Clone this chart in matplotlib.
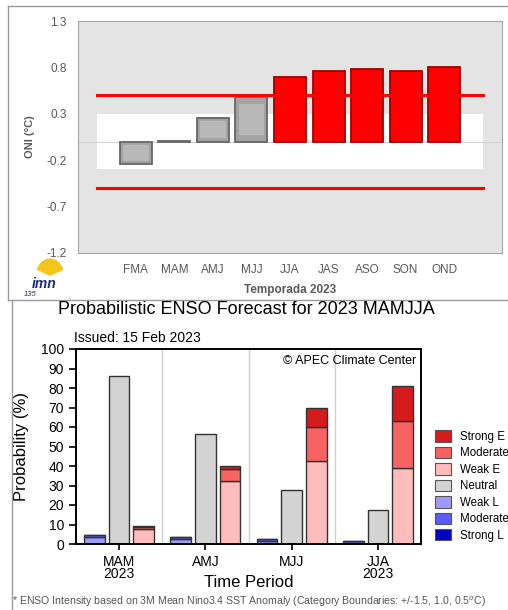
import matplotlib
matplotlib.use("Agg")
import matplotlib.pyplot as plt
from matplotlib.lines import Line2D
from matplotlib.patches import Patch, Wedge

plt.rcParams["font.family"] = ["Liberation Sans", "DejaVu Sans"]

# --- top chart: ONI forecast ---
seasons = ["FMA", "MAM", "AMJ", "MJJ", "JJA", "JAS", "ASO", "SON", "OND"]
oni = [-0.24, 0.01, 0.26, 0.48, 0.70, 0.76, 0.78, 0.76, 0.80]
oni_ticks = [1.3, 0.8, 0.3, -0.2, -0.7, -1.2]
threshold = 0.5
neutral_band = 0.3

# --- bottom chart: APEC probabilistic forecast ---
periods = ["MAM\n2023", "AMJ", "MJJ", "JJA\n2023"]
weak_l = [3.8, 2.4, 1.4, 0.7]
moderate_l = [1.0, 1.0, 1.0, 1.0]
strong_l = [0.0, 0.0, 0.0, 0.0]
neutral = [86.3, 56.3, 27.8, 17.2]
weak_e = [7.7, 32.1, 42.7, 38.9]
moderate_e = [1.0, 6.5, 17.2, 24.1]
strong_e = [0.3, 1.3, 9.6, 18.1]

W, H = 508, 610
fig = plt.figure(figsize=(W / 100, H / 100), dpi=100)


def fx(px):
    return px / W


def fy(py):
    return 1 - py / H


# panel frames
fig.add_artist(Line2D([fx(8), 1], [fy(6), fy(6)], color="#9a9a9a", lw=1))
fig.add_artist(Line2D([fx(8), fx(8)], [fy(6), fy(300)], color="#9a9a9a", lw=1))
fig.add_artist(Line2D([fx(8), 1], [fy(300), fy(300)], color="#9a9a9a", lw=1))
fig.add_artist(Line2D([fx(12), fx(12)], [fy(300), 0], color="#9a9a9a", lw=1))

# ---------- top ----------
ax1 = fig.add_axes([fx(78), fy(253), fx(502) - fx(78), (253 - 21) / H])
ax1.set_facecolor("#e4e4e4")
xs = list(range(len(seasons)))
ax1.fill_between([-1, len(seasons)], -neutral_band, neutral_band, color="white", lw=0, zorder=1)
ax1.axhline(0, color="#d4d4d4", lw=0.8, zorder=1)
cols = ["#ff0000" if v >= threshold else "#a3a3a3" for v in oni]
edges = ["#a00000" if v >= threshold else "#666666" for v in oni]
ax1.bar(xs, oni, width=0.83, color=cols, edgecolor=edges, linewidth=1.3, zorder=2)
for x, v in zip(xs, oni):
    if v < threshold and abs(v) > 0.05:
        ax1.bar(x, v * 0.7, bottom=v * 0.15, width=0.66, color="#b8b8b8", lw=0, zorder=3)
for t in (threshold, -threshold):
    ax1.plot([-1, len(seasons)], [t, t], color="#ff0000", lw=2.2, zorder=4)
ax1.set_xlim(-1.5, len(seasons) + 0.5)
ax1.set_ylim(-1.2, 1.3)
ax1.set_yticks(oni_ticks)
ax1.set_yticklabels([f"{t:.1f}" for t in oni_ticks])
ax1.set_xticks(xs)
ax1.set_xticklabels(seasons)
ax1.tick_params(length=0, labelsize=8.5, labelcolor="#595959")
ax1.tick_params(axis="y", pad=8)
ax1.tick_params(axis="x", pad=8)
for s in ax1.spines.values():
    s.set_color("#a6a6a6")
ax1.set_xlabel("Temporada 2023", fontsize=8.5, fontweight="bold", color="#595959")
ax1.xaxis.set_label_coords(0.5, -0.16)
ax1.xaxis.label.set_va("center")
fig.text(fx(30), fy(137), "ONI (°C)", rotation=90, ha="center", va="center",
         fontsize=8, fontweight="bold", color="#595959")

# logo
fig.add_artist(Wedge((fx(50), fy(275)), 0.026, 20, 160, color="#f5c518",
                     transform=fig.transFigure))
fig.text(fx(44), fy(284), "imn", fontsize=10, fontstyle="italic", fontweight="bold",
         color="#1a2a80", ha="center", va="center")
fig.text(fx(30), fy(295), "135", fontsize=5.5, fontstyle="italic", color="#333366",
         ha="center", va="center")

# ---------- bottom ----------
ax2 = fig.add_axes([fx(76), fy(544), (421 - 76) / W, (544 - 349) / H])
g = list(range(len(periods)))
off, bw = 0.285, 0.24
ec = "#333333"
xl = [i - off for i in g]
xe = [i + off for i in g]
c_se, c_me, c_we = "#d51b1b", "#f76262", "#ffbcbc"
c_n = "#d3d3d3"
c_wl, c_ml, c_sl = "#9c9cf6", "#5c5cf8", "#0000c0"

ax2.bar(xl, weak_l, bw, color=c_wl, edgecolor=ec, lw=1)
ax2.bar(xl, moderate_l, bw, bottom=weak_l, color=c_ml, edgecolor=ec, lw=1)
bl_top = [a + b for a, b in zip(weak_l, moderate_l)]
ax2.bar(xl, strong_l, bw, bottom=bl_top, color=c_sl, edgecolor=ec, lw=1)
ax2.bar(g, neutral, bw, color=c_n, edgecolor=ec, lw=1)
ax2.bar(xe, weak_e, bw, color=c_we, edgecolor=ec, lw=1)
ax2.bar(xe, moderate_e, bw, bottom=weak_e, color=c_me, edgecolor=ec, lw=1)
be_top = [a + b for a, b in zip(weak_e, moderate_e)]
ax2.bar(xe, strong_e, bw, bottom=be_top, color=c_se, edgecolor=ec, lw=1)

for i in g[:-1]:
    ax2.axvline(i + 0.5, color="#cfcfcf", lw=1, zorder=0)
ax2.set_xlim(-0.5, len(periods) - 0.5)
ax2.set_ylim(0, 100)
ax2.set_yticks(range(0, 101, 10))
ax2.set_xticks(g)
ax2.set_xticklabels(periods, linespacing=0.8)
ax2.tick_params(axis="y", labelsize=10, length=5, width=1.2, direction="out")
ax2.tick_params(axis="x", labelsize=10, length=4, width=1.2, direction="out", pad=4)
for s in ax2.spines.values():
    s.set_linewidth(1.4)
ax2.set_ylabel("Probability (%)", fontsize=12)
ax2.yaxis.set_label_coords(-0.157, 0.5)
ax2.yaxis.label.set_va("center")
ax2.set_xlabel("Time Period", fontsize=12)
ax2.xaxis.set_label_coords(0.5, -0.195)
ax2.xaxis.label.set_va("center")
ax2.text(0.985, 0.94, "© APEC Climate Center", transform=ax2.transAxes,
         ha="right", va="center", fontsize=9)
fig.text(fx(74), fy(338), "Issued: 15 Feb 2023", fontsize=10, va="center")
fig.text(fx(246), fy(310), "Probabilistic ENSO Forecast for 2023 MAMJJA",
         fontsize=13, ha="center", va="center")

labels = ["Strong E", "Moderate", "Weak E", "Neutral", "Weak L", "Moderate", "Strong L"]
colors = [c_se, c_me, c_we, c_n, c_wl, c_ml, c_sl]
handles = [Patch(facecolor=c, edgecolor="#555555", lw=0.8) for c in colors]
fig.legend(handles, labels, loc="center left", bbox_to_anchor=(fx(435), fy(486)),
           frameon=False, fontsize=8.3, handlelength=1.4, handleheight=1.15,
           labelspacing=0.33, handletextpad=0.75, borderpad=0, borderaxespad=0)

fig.text(fx(12), fy(602),
         "* ENSO Intensity based on 3M Mean Nino3.4 SST Anomaly (Category Boundaries: +/-1.5, 1.0, 0.5$^{o}$C)",
         fontsize=7.6, color="#555555", va="center")

fig.savefig("out.png", dpi=100)
